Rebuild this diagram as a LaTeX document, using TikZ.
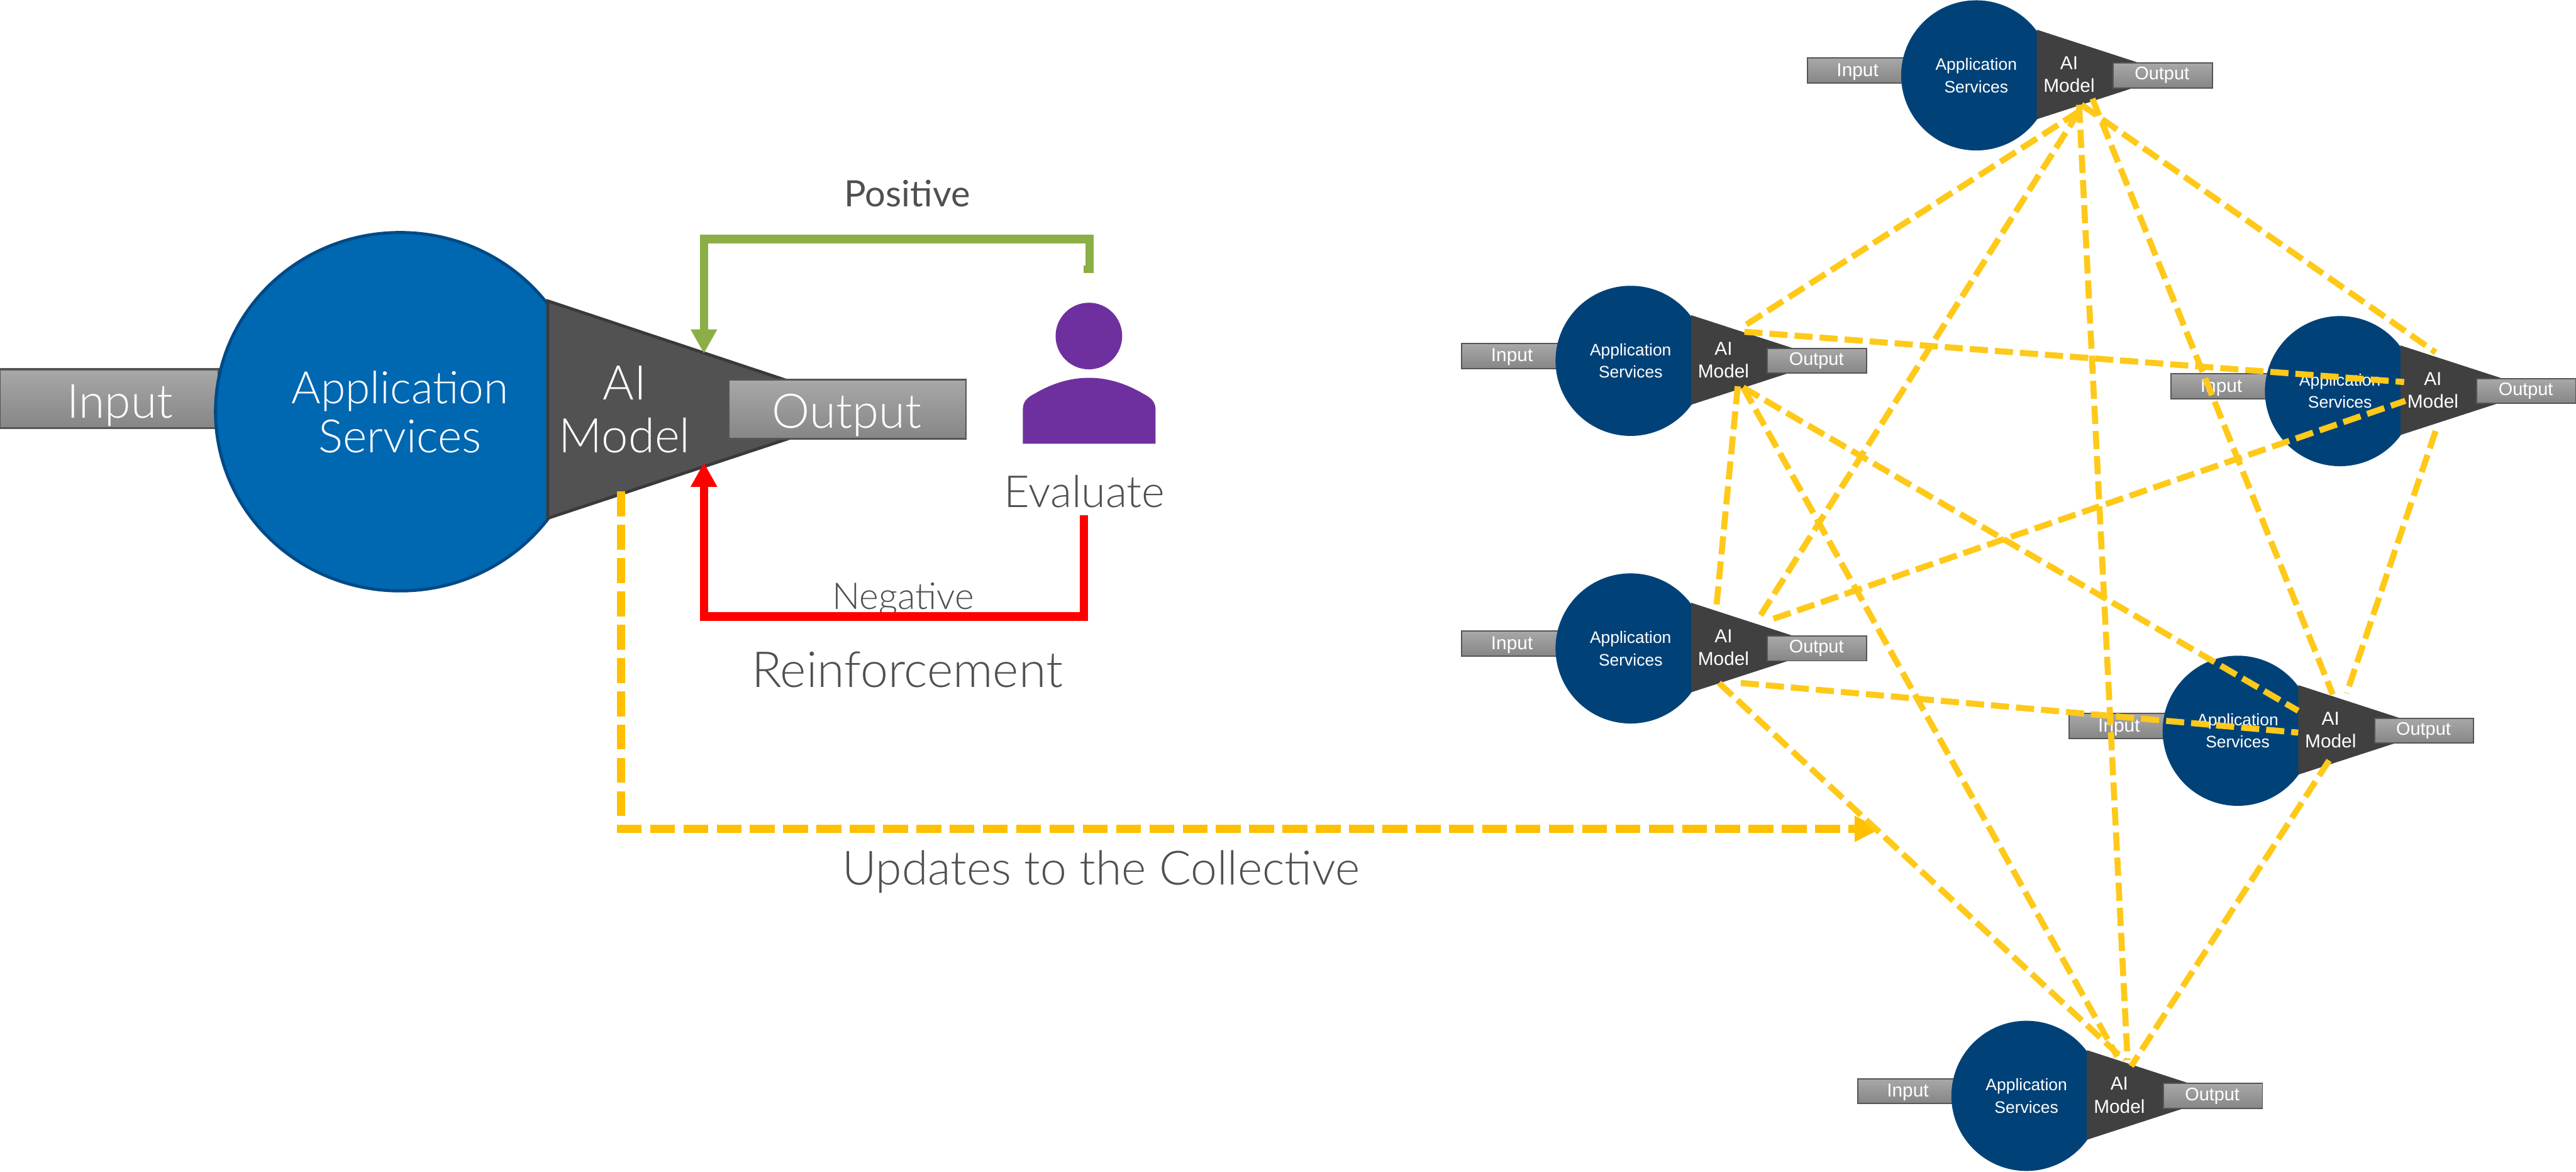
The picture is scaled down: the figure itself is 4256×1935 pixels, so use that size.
\documentclass[tikz,border=0pt]{standalone}
\usepackage{fontspec}
\setmainfont{Lato Light}
\newfontfamily\labelfont{Lato}
\newfontfamily\arialfont{Liberation Sans}
\usetikzlibrary{shapes.geometric,arrows.meta}
\definecolor{txtgray}{HTML}{505050}
\definecolor{mainblue}{HTML}{0067B1}
\definecolor{mainblueedge}{HTML}{004A85}
\definecolor{smallblue}{HTML}{004278}
\definecolor{maingrey}{HTML}{525252}
\definecolor{mainedge}{HTML}{3A3A3A}
\definecolor{smallgrey}{HTML}{404040}
\definecolor{boxtop}{HTML}{A8A8A8}
\definecolor{boxbot}{HTML}{868686}
\definecolor{boxedge}{HTML}{555555}
\definecolor{meshyellow}{HTML}{FFC91A}
\definecolor{mainyellow}{HTML}{FFC000}
\definecolor{posgreen}{HTML}{8BAE46}
\definecolor{negred}{HTML}{FF0000}
\definecolor{personpurple}{HTML}{6E309E}
\tikzset{
  grad box/.style={rectangle,inner sep=0pt,top color=boxtop,bottom color=boxbot,draw=boxedge},
  big label/.style={inner sep=0pt,anchor=base,text=white,font=\fontsize{#1}{#1}\selectfont},
  dark label/.style={inner sep=0pt,anchor=base,text=txtgray,font=\fontsize{#1}{#1}\selectfont},
  mid label/.style={inner sep=0pt,anchor=base,text=txtgray,font=\labelfont\fontsize{#1}{#1}\selectfont},
  small label/.style={inner sep=0pt,anchor=center,text=white,font=\arialfont\fontsize{#1}{#1}\selectfont},
  mesh/.style={draw=meshyellow,line width=10pt,dash pattern=on 30pt off 11.5pt},
  feedback/.style={line width=14pt,-{Triangle[length=40pt,width=41pt]}},
}
\newcommand{\aiunit}[3]{%
  \begin{scope}[shift={(#2,#3)}]
    \node[grad box,line width=2pt,minimum width=160pt,minimum height=41pt] (#1in) at (-199,-8) {};
    \node[ellipse,fill=smallblue,inner sep=0pt,minimum width=248pt,minimum height=248pt] (#1core) at (0,0) {};
    \fill[smallgrey] (100,-75.5) -- (328,-1.5) -- (100,72.5) -- cycle;
    \node[grad box,line width=2pt,minimum width=164pt,minimum height=41pt] (#1out) at (308,0) {};
    \node[small label=31] (#1intext) at (-196,-6) {Input};
    \node[small label=27.5] (#1app) at (0,-16) {Application};
    \node[small label=27.5] (#1svc) at (0,18.5) {Services};
    \node[small label=31] (#1ai) at (153.5,-20) {AI};
    \node[small label=31] (#1model) at (153.5,17) {Model};
    \node[small label=30] (#1outtext) at (307,0) {Output};
  \end{scope}}
\begin{document}
\begin{tikzpicture}[x=1pt,y=-1pt]
\useasboundingbox (0,0) rectangle (4256,1935);
% main unit
\node[grad box,line width=4pt,minimum width=362pt,minimum height=97pt] (mainin) at (180,658.5) {};
\node[ellipse,fill=mainblue,draw=mainblueedge,line width=5pt,inner sep=0pt,minimum width=610pt,minimum height=592pt] (maincore) at (661,680) {};
\fill[maingrey,draw=mainedge,line width=5pt,line join=miter] (905,497) -- (1446,677) -- (905,856) -- cycle;
\node[grad box,line width=3pt,minimum width=392pt,minimum height=97pt] (mainout) at (1400,676) {};
\node[big label=78] (maininput) at (198,690) {Input};
\node[big label=74] (mainapp) at (661,667) {Application};
\node[big label=76] (mainsvc) at (661,748) {Services};
\node[big label=79] (mainai) at (1032,660) {AI};
\node[big label=79] (mainmodel) at (1032,748) {Model};
\node[big label=79] (mainoutput) at (1399,707) {Output};
% person
\node[circle,fill=personpurple,inner sep=0pt,minimum size=110pt] (head) at (1799,555) {};
\fill[personpurple] (1690,733) -- (1690,675) .. controls (1690,662) and (1700,655) .. (1708,651)
  .. controls (1740,632) and (1770,624) .. (1799,624)
  .. controls (1828,624) and (1858,632) .. (1890,651)
  .. controls (1898,655) and (1909,662) .. (1909,675) -- (1909,733) -- cycle;
% labels
\node[mid label=60] (positive) at (1499,341) {Positive};
\node[dark label=73] (evaluate) at (1792,838) {Evaluate};
\node[dark label=61] (negative) at (1492,1006) {Negative};
\node[dark label=82] (reinforcement) at (1499,1135) {Reinforcement};
\node[dark label=78] (updates) at (1819,1461) {Updates to the Collective};
% feedback connectors
\coordinate (posstart) at (1800,451);
\coordinate (poscornerR) at (1800,395);
\coordinate (poscornerL) at (1163,395);
\coordinate (postip) at (1163,584);
\coordinate (negstart) at (1791,851);
\coordinate (negcornerR) at (1791,1018.5);
\coordinate (negcornerL) at (1163,1018.5);
\coordinate (negtip) at (1163,764);
\draw[feedback,draw=posgreen] (posstart) -- (poscornerR) -- (poscornerL) -- (postip);
\fill[posgreen] (1790,438) rectangle (1800,451);
\draw[feedback,draw=negred] (negstart) -- (negcornerR) -- (negcornerL) -- (negtip);
\coordinate (colstart) at (1026,812);
\coordinate (colcorner) at (1026,1369);
\coordinate (coltip) at (3108,1369);
\draw[draw=mainyellow,line width=14pt,dash pattern=on 41pt off 14pt,-{Triangle[length=44pt,width=40pt]}] (colstart) -- (colcorner) -- (coltip);
% small units
\aiunit{T}{3265}{124.5}
\aiunit{LA}{2694}{596}
\aiunit{LB}{2694}{1071}
\aiunit{RA}{3866}{646}
\aiunit{RB}{3697}{1207}
\aiunit{B}{3348}{1810}
% mesh end points
\coordinate (Tp) at (3435,184); \coordinate (Tq) at (3435,173);
\coordinate (Tr) at (3439,173); \coordinate (Ts) at (3457,163);
\coordinate (LAa) at (2882,538); \coordinate (LAb) at (2882,548);
\coordinate (LAc) at (2871,638); \coordinate (LAd) at (2880,640);
\coordinate (LBa) at (2907,1019); \coordinate (LBb) at (2836,999);
\coordinate (LBc) at (2930,1022); \coordinate (LBd) at (2876,1128);
\coordinate (LBe) at (2840,1128);
\coordinate (RAa) at (4024,582); \coordinate (RAb) at (3972,631);
\coordinate (RAc) at (3974,662); \coordinate (RAd) at (4024,712);
\coordinate (RBa) at (3854,1147); \coordinate (RBb) at (3797,1174);
\coordinate (RBc) at (3797,1210); \coordinate (RBd) at (3877,1145);
\coordinate (RBe) at (3848,1256);
\coordinate (Ba) at (3515,1751); \coordinate (Bb) at (3498,1745);
\coordinate (Bc) at (3510,1751); \coordinate (Bd) at (3521,1761);
% mesh
\draw[mesh] (Tp) -- (LAa);
\draw[mesh] (Tp) -- (LBa);
\draw[mesh] (Tq) -- (Ba);
\draw[mesh] (Tr) -- (RAa);
\draw[mesh] (Ts) -- (RBa);
\draw[mesh] (LAb) -- (RAb);
\draw[mesh] (LAc) -- (LBb);
\draw[mesh] (LAd) -- (RBb);
\draw[mesh] (LAd) -- (Bb);
\draw[mesh] (LBc) -- (RAc);
\draw[mesh] (LBd) -- (RBc);
\draw[mesh] (LBe) -- (Bc);
\draw[mesh] (RAd) -- (RBd);
\draw[mesh] (RBe) -- (Bd);
\end{tikzpicture}
\end{document}
